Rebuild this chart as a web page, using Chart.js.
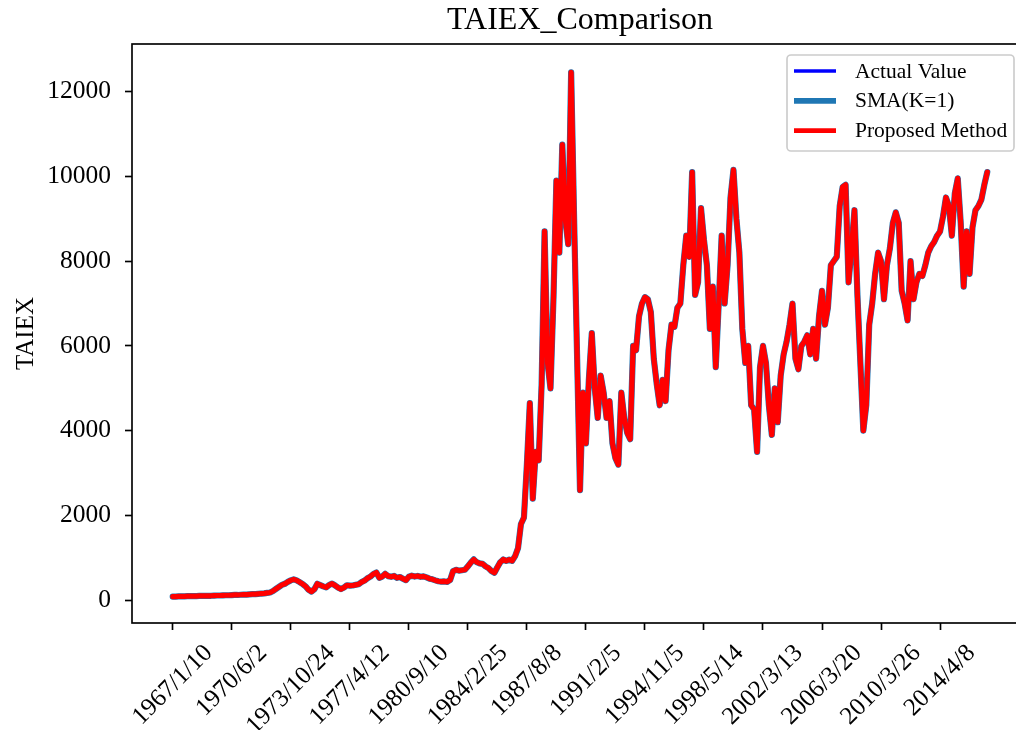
<!DOCTYPE html>
<html>
<head>
<meta charset="utf-8">
<title>TAIEX_Comparison</title>
<script src="https://cdn.jsdelivr.net/npm/chart.js@4.4.1/dist/chart.umd.min.js"></script>
<style>
  html, body { margin: 0; padding: 0; background: #fff; width: 1016px; height: 730px; overflow: hidden; }
  canvas { display: block; }
</style>
</head>
<body>
<canvas id="taiexChart" width="1030" height="730"></canvas>
<script>
// TAIEX comparison (one point every ~1/20 of a tick step)

// x tick labels, one every 20 points
const tickLabels = ['1967/1/10', '1970/6/2', '1973/10/24', '1977/4/12', '1980/9/10', '1984/2/25',
  '1987/8/8', '1991/2/5', '1994/11/5', '1998/5/14', '2002/3/13', '2006/3/20', '2010/3/26', '2014/4/8'];
const tickEvery = 20;

const yTicks = [0, 2000, 4000, 6000, 8000, 10000, 12000];

const actualValues = [
  88, 89, 92, 93, 94, 97, 98, 98, 101, 104, 103, 106, 108, 107, 111, 114, 113, 117, 120, 119,
  123, 127, 126, 131, 135, 134, 141, 144, 146, 153, 160, 164, 175, 185, 220, 270, 318, 365, 390, 435,
  470, 495, 470, 430, 385, 330, 250, 205, 260, 390, 360, 330, 305, 360, 395, 350, 300, 265, 300, 355,
  345, 350, 365, 380, 430, 465, 520, 560, 620, 655, 530, 560, 625, 570, 555, 575, 530, 550, 510, 475,
  555, 580, 560, 575, 555, 565, 540, 510, 495, 470, 450, 440, 445, 435, 480, 690, 720, 700, 710, 720,
  800, 890, 965, 900, 870, 860, 800, 760, 690, 650, 780, 900, 965, 930, 960, 930, 1040, 1230, 1800, 1950,
  3200, 4650, 2400, 3500, 3300, 5100, 8700, 5600, 5000, 7100, 9900, 8200, 10750, 9000, 8400, 12450, 9000, 5800, 2600, 4900,
  3700, 5200, 6300, 5000, 4300, 5300, 4900, 4300, 4700, 3700, 3350, 3200, 4900, 4300, 3950, 3800, 6000, 5900, 6700, 7000,
  7150, 7100, 6800, 5700, 5100, 4600, 5200, 4700, 5900, 6500, 6450, 6900, 7000, 7900, 8600, 8100, 10100, 7200, 7500, 9250,
  8500, 7900, 6400, 7400, 5500, 7000, 8600, 7000, 7900, 9500, 10150, 9000, 8200, 6400, 5600, 6000, 4600, 4500, 3500, 5500,
  6000, 5600, 4600, 3900, 5000, 4200, 5300, 5800, 6100, 6500, 7000, 5700, 5450, 6000, 6100, 6250, 5800, 6400, 5700, 6700,
  7300, 6500, 6900, 7900, 8000, 8100, 9300, 9750, 9800, 7500, 8300, 9200, 7200, 5600, 4000, 4600, 6500, 7000, 7700, 8200,
  8000, 7100, 7900, 8300, 8900, 9150, 8900, 7300, 7000, 6600, 8000, 7100, 7500, 7700, 7650, 7900, 8200, 8350, 8450, 8600,
  8700, 9050, 9500, 9300, 8600, 9600, 9950, 8900, 7400, 8700, 7700, 8800, 9200, 9300, 9450, 9800, 10100
];
// the other two curves sit on top of the actual one in the picture
const smaValues = actualValues.slice();
const proposedValues = actualValues.slice();

const serif = '"Liberation Serif", "Times New Roman", serif';

function toPoints(arr) {
  return arr.map((v, i) => ({ x: i, y: v }));
}

// title, axis label, rotated x labels, spines and legend (matplotlib look)
const decorPlugin = {
  id: 'decor',
  afterDraw(chart) {
    const { ctx, chartArea: a, scales: { x } } = chart;
    ctx.save();
    ctx.fillStyle = '#000';

    ctx.font = '32px ' + serif;
    ctx.textAlign = 'center';
    ctx.textBaseline = 'alphabetic';
    ctx.fillText('TAIEX_Comparison', (a.left + a.right) / 2, 29);

    ctx.save();
    ctx.translate(26, (a.top + a.bottom) / 2);
    ctx.rotate(-Math.PI / 2);
    ctx.font = '25px ' + serif;
    ctx.textBaseline = 'middle';
    ctx.fillText('TAIEX', 0, 0);
    ctx.restore();

    ctx.font = '25px ' + serif;
    ctx.textBaseline = 'middle';
    tickLabels.forEach((t, k) => {
      const px = x.getPixelForValue(k * tickEvery);
      const w = ctx.measureText(t).width;
      const half = (w + 29) / (2 * Math.SQRT2);
      ctx.save();
      ctx.translate(px, a.bottom + 16 + half);
      ctx.rotate(-Math.PI / 4);
      ctx.fillText(t, 0, 0);
      ctx.restore();
    });

    ctx.strokeStyle = '#000';
    ctx.lineWidth = 1.66;
    ctx.strokeRect(a.left, a.top, a.right - a.left, a.bottom - a.top);

    // legend box, upper right
    const lx = 787, ly = 55, lw = 227, lh = 96;
    ctx.beginPath();
    ctx.roundRect(lx, ly, lw, lh, 4);
    ctx.fillStyle = 'rgba(255,255,255,0.8)';
    ctx.fill();
    ctx.strokeStyle = '#cccccc';
    ctx.lineWidth = 1.66;
    ctx.stroke();

    ctx.font = '21.5px ' + serif;
    ctx.textAlign = 'left';
    ctx.textBaseline = 'middle';
    chart.data.datasets.forEach((ds, i) => {
      const yy = 71 + i * 29.8;
      ctx.beginPath();
      ctx.moveTo(794, yy);
      ctx.lineTo(836, yy);
      ctx.strokeStyle = ds.borderColor;
      ctx.lineWidth = ds.borderWidth - 0.5;
      ctx.lineCap = 'butt';
      ctx.stroke();
      ctx.fillStyle = '#000';
      ctx.fillText(ds.label, 855, yy + 1);
    });
    ctx.restore();
  }
};

new Chart(document.getElementById('taiexChart'), {
  type: 'line',
  data: {
    datasets: [
      { label: 'Actual Value', data: toPoints(actualValues), borderColor: '#0000ff', borderWidth: 4, order: 3 },
      { label: 'SMA(K=1)', data: toPoints(smaValues), borderColor: '#1f77b4', borderWidth: 6.2, order: 2 },
      { label: 'Proposed Method', data: toPoints(proposedValues), borderColor: '#ff0000', borderWidth: 5.2, order: 1 }
    ]
  },
  options: {
    responsive: false,
    animation: false,
    events: [],
    layout: { padding: { left: 0, top: 44, right: 2, bottom: 0 } },
    elements: {
      point: { radius: 0 },
      line: { tension: 0, fill: false, borderJoinStyle: 'round', borderCapStyle: 'round' }
    },
    plugins: { legend: { display: false }, title: { display: false }, tooltip: { enabled: false } },
    scales: {
      x: {
        type: 'linear',
        min: -13.8,
        max: 289.8,
        afterBuildTicks: axis => { axis.ticks = tickLabels.map((t, k) => ({ value: k * tickEvery })); },
        afterFit: axis => { axis.height = 107; },
        ticks: { display: false },
        grid: { drawOnChartArea: false, drawTicks: true, tickLength: 7, tickColor: '#000', tickWidth: 1.66 },
        border: { display: false }
      },
      y: {
        min: -535,
        max: 13120,
        afterBuildTicks: axis => { axis.ticks = yTicks.map(v => ({ value: v })); },
        afterFit: axis => { axis.width = 132; },
        ticks: { color: '#000', font: { family: serif, size: 25.5 }, padding: 14, callback: v => String(v) },
        grid: { drawOnChartArea: false, drawTicks: true, tickLength: 7, tickColor: '#000', tickWidth: 1.66 },
        border: { display: false }
      }
    }
  },
  plugins: [decorPlugin]
});
</script>
</body>
</html>
